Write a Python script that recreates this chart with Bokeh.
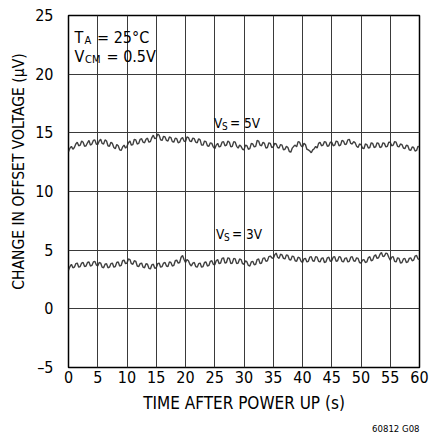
from bokeh.plotting import figure
from bokeh.models import Label, FixedTicker, Title
from bokeh.embed import file_html
from bokeh.resources import INLINE

FONT = "DejaVu Sans Condensed"

# sample times (s), one reading every 0.25 s
time_s = [i * 0.25 for i in range(241)]

vs5_uv = [
    13.4, 13.7, 13.85, 13.6, 13.75, 14.05, 14.2, 13.9, 13.95, 14.3, 14.2, 13.85, 13.9, 14.15, 14.35, 13.95, 14.05, 14.35, 14.4, 14.05,
    14.0, 14.3, 14.45, 14.1, 14.05, 14.4, 14.3, 13.9, 13.85, 14.2, 14.1, 13.75, 13.65, 14.0, 13.9, 13.55, 13.5, 13.8, 13.95, 13.7,
    13.85, 14.15, 14.3, 13.95, 14.0, 14.45, 14.4, 14.05, 14.1, 14.45, 14.5, 14.2, 14.15, 14.45, 14.55, 14.2, 14.25, 14.6, 14.8, 14.5,
    14.55, 14.9, 14.8, 14.4, 14.35, 14.7, 14.65, 14.35, 14.3, 14.65, 14.6, 14.25, 14.2, 14.55, 14.5, 14.15, 14.2, 14.5, 14.6, 14.3,
    14.25, 14.65, 14.6, 14.3, 14.25, 14.55, 14.5, 14.2, 14.15, 14.5, 14.4, 13.95, 13.95, 14.3, 14.25, 13.9, 13.85, 14.15, 14.1, 13.8,
    13.65, 13.95, 14.1, 13.8, 13.85, 14.2, 14.25, 13.9, 13.95, 14.3, 14.2, 13.8, 13.85, 14.25, 14.2, 13.85, 13.7, 13.95, 13.85, 13.6,
    13.55, 13.95, 13.9, 13.6, 13.65, 14.1, 14.05, 13.8, 13.85, 14.35, 14.3, 13.95, 13.9, 14.2, 14.1, 13.7, 13.75, 14.15, 14.1, 13.75,
    13.8, 14.1, 14.05, 13.75, 13.7, 14.0, 13.95, 13.55, 13.6, 13.85, 13.75, 13.4, 13.35, 13.7, 13.85, 13.95, 13.8, 14.25, 14.2, 13.9,
    13.8, 14.1, 14.0, 13.6, 13.55, 13.45, 13.3, 13.55, 13.65, 13.85, 13.7, 14.1, 14.2, 13.9, 13.95, 14.25, 14.2, 13.85, 13.9, 14.2,
    14.2, 13.9, 13.95, 14.3, 14.25, 13.9, 13.95, 14.35, 14.3, 14.0, 14.05, 14.4, 14.45, 14.1, 14.05, 14.25, 14.15, 13.85, 13.75, 14.05,
    14.0, 13.7, 13.65, 14.05, 14.0, 13.7, 13.75, 14.15, 14.1, 13.75, 13.8, 14.15, 14.1, 13.75, 13.8, 14.15, 14.1, 13.8, 13.85, 14.2,
    14.2, 13.9, 13.95, 14.25, 14.2, 13.85, 13.8, 14.05, 14.0, 13.7, 13.65, 13.95, 13.9, 13.55, 13.5, 13.8, 13.75, 13.45, 13.5, 13.85,
    13.8]

vs3_uv = [
    3.3, 3.6, 3.8, 3.5, 3.55, 3.85, 3.9, 3.55, 3.6, 3.9, 3.95, 3.6, 3.65, 3.95, 4.0, 3.65, 3.7, 4.0, 4.05, 3.75,
    3.65, 3.95, 3.9, 3.55, 3.5, 3.8, 3.85, 3.5, 3.55, 3.85, 3.9, 3.55, 3.6, 3.95, 4.0, 3.65, 3.7, 4.1, 4.15, 3.85,
    3.9, 4.25, 4.2, 3.85, 3.8, 4.1, 4.05, 3.65, 3.6, 3.85, 3.9, 3.55, 3.5, 3.85, 3.8, 3.45, 3.4, 3.75, 3.8, 3.45,
    3.5, 3.85, 3.9, 3.55, 3.6, 3.9, 3.95, 3.65, 3.6, 4.0, 3.95, 3.65, 3.7, 4.1, 4.15, 3.9, 3.95, 4.4, 4.55, 4.2,
    3.95, 4.2, 4.1, 3.8, 3.65, 3.9, 3.95, 3.6, 3.55, 3.85, 3.9, 3.55, 3.6, 3.95, 4.0, 3.65, 3.7, 4.05, 4.1, 3.8,
    3.75, 4.1, 4.2, 3.85, 3.9, 4.3, 4.35, 3.9, 3.95, 4.35, 4.3, 3.85, 3.9, 4.3, 4.25, 3.85, 3.9, 4.25, 4.2, 3.85,
    3.8, 4.1, 4.0, 3.7, 3.65, 4.0, 4.05, 3.75, 3.8, 4.2, 4.25, 3.85, 3.9, 4.3, 4.35, 4.05, 4.1, 4.45, 4.5, 4.35,
    4.3, 4.6, 4.75, 4.4, 4.3, 4.65, 4.6, 4.3, 4.25, 4.6, 4.55, 4.2, 4.15, 4.5, 4.45, 4.1, 4.05, 4.4, 4.35, 4.05,
    3.95, 4.25, 4.3, 4.0, 4.05, 4.4, 4.45, 4.1, 4.05, 4.45, 4.4, 4.05, 4.0, 4.3, 4.35, 3.95, 4.0, 4.35, 4.4, 4.05,
    4.1, 4.4, 4.45, 4.05, 4.1, 4.45, 4.4, 4.05, 4.0, 4.3, 4.35, 4.0, 4.05, 4.4, 4.45, 4.1, 4.05, 4.35, 4.3, 3.95,
    3.9, 4.15, 4.2, 3.95, 4.0, 4.35, 4.45, 4.1, 4.15, 4.5, 4.6, 4.3, 4.35, 4.65, 4.8, 4.45, 4.5, 4.75, 4.7, 4.4,
    4.15, 4.4, 4.45, 4.05, 4.0, 4.35, 4.3, 3.9, 3.95, 4.25, 4.3, 3.95, 4.0, 4.3, 4.35, 4.1, 4.15, 4.5, 4.55, 4.25,
    4.2]

x_ticks = [0, 5, 10, 15, 20, 25, 30, 35, 40, 45, 50, 55, 60]
y_ticks = [-5, 0, 5, 10, 15, 20, 25]

p = figure(width=429, height=438, x_range=(0, 60), y_range=(-5, 25),
           output_backend="svg", toolbar_location=None,
           min_border_left=68, min_border_right=10, min_border_top=15,
           min_border_bottom=71)

p.outline_line_color = "black"
p.outline_line_width = 1.5
p.background_fill_color = "white"
p.border_fill_color = "white"

for ax in (p.xaxis[0], p.yaxis[0]):
    ax.axis_line_color = None
    ax.major_tick_line_color = None
    ax.minor_tick_line_color = None
    ax.major_tick_out = 0
    ax.major_tick_in = 0
    ax.major_label_text_font = FONT
    ax.major_label_text_font_size = "16px"
    ax.major_label_text_color = "black"
    ax.axis_label_text_font = FONT
    ax.axis_label_text_font_style = "normal"
    ax.axis_label_text_color = "black"

p.xaxis.axis_label_text_font_size = "17px"
p.yaxis.axis_label_text_font_size = "15.5px"

p.xaxis.ticker = FixedTicker(ticks=x_ticks)
p.yaxis.ticker = FixedTicker(ticks=y_ticks)
p.yaxis.major_label_overrides = {-5: "\u20135"}
p.xaxis.major_label_standoff = 3
p.yaxis.major_label_standoff = 15
p.xaxis.axis_label = "TIME AFTER POWER UP (s)"
p.yaxis.axis_label = "\u00a0" * 9 + "CHANGE IN OFFSET VOLTAGE (\u00b5V)"
p.xaxis.axis_label_standoff = 7
p.yaxis.axis_label_standoff = 4

p.xgrid.ticker = FixedTicker(ticks=x_ticks)
p.ygrid.ticker = FixedTicker(ticks=y_ticks)
for g in (p.xgrid[0], p.ygrid[0]):
    g.grid_line_color = "#3a3a3a"
    g.grid_line_width = 1

p.line(time_s, vs5_uv, line_color="#2b2b2b", line_width=1.4, line_alpha=0.9)
p.line(time_s, vs3_uv, line_color="#2b2b2b", line_width=1.4, line_alpha=0.9)


def lab(x_off, y, text, size):
    p.add_layout(Label(x=0, y=y, x_offset=x_off, text=text,
                       text_font=FONT, text_font_size=size,
                       text_color="black", text_baseline="alphabetic",
                       text_align="left"))


# conditions box text
lab(6, 23.15, "T", "16px")
lab(16, 22.87, "A", "11px")
lab(28.5, 23.15, "= 25\u00b0C", "16px")
lab(6, 21.5, "V", "16px")
lab(16.5, 21.22, "CM", "11px")
lab(38, 21.5, "= 0.5V", "16px")

# series labels
lab(145.5, 15.85, "V", "13.5px")
lab(153.5, 15.54, "S", "10px")
lab(161.5, 15.85, "= 5V", "13.5px")
lab(147.5, 6.4, "V", "13.5px")
lab(155.5, 6.09, "S", "10px")
lab(163.5, 6.4, "= 3V", "13.5px")

p.add_layout(Title(text="60812 G08", align="right", text_font=FONT,
                   text_font_size="9.5px", text_font_style="normal",
                   text_color="black", standoff=10), "below")

open("out.html", "w").write(file_html(p, INLINE))
